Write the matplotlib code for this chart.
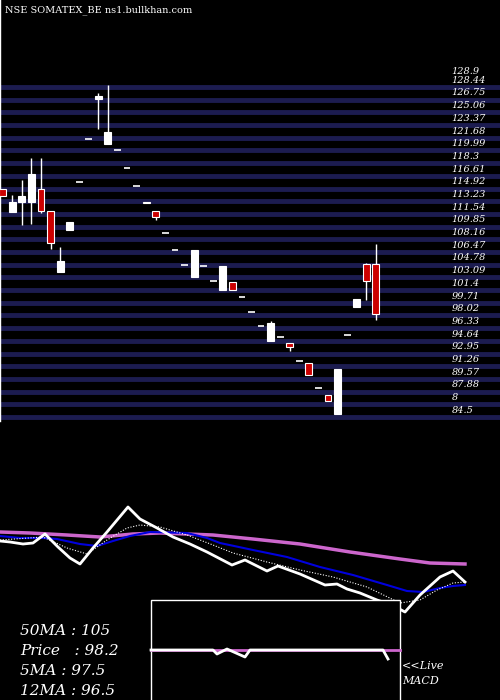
import matplotlib
matplotlib.use("Agg")
import matplotlib.pyplot as plt
import numpy as np

# candles (index order)
opens  = [113.95,111.74,113.07,113.07,114.92,111.88,103.81,110.42,115.84,121.52,126.81,120.82,120.11,117.69,115.31,113.15,111.96,109.01,106.72,104.74,103.11,104.61,102.67,101.39,102.49,100.51,98.53,96.59,94.65,95.09,94.30,91.92,91.66,88.40,87.43,84.87,95.40,99.15,104.87,104.87]
closes = [114.92,113.07,113.86,116.81,111.88,107.69,105.31,109.45,115.84,121.52,127.25,122.49,120.11,117.69,115.31,112.93,111.08,109.01,106.72,104.74,106.77,104.61,102.67,104.65,101.39,100.51,98.53,96.59,97.08,95.09,93.77,91.92,90.07,88.40,86.63,90.91,95.40,100.16,102.63,98.22]
highs  = [114.92,114.03,116.02,118.93,118.93,111.88,107.12,110.42,115.84,121.52,127.69,128.70,120.11,117.69,115.31,113.15,111.96,109.01,106.72,104.74,106.77,104.61,102.67,104.65,102.49,100.51,98.53,96.59,97.34,95.09,94.30,91.92,91.66,88.40,87.43,90.91,95.40,100.16,105.05,107.56]
lows   = [113.95,111.74,110.11,110.25,111.61,106.81,103.81,109.45,115.84,121.52,122.85,120.82,120.11,117.69,115.31,112.93,110.77,109.01,106.72,104.74,103.11,104.61,102.67,101.39,101.39,100.51,98.53,96.59,94.65,95.09,93.24,91.92,90.07,88.40,86.63,84.87,95.40,99.15,100.07,97.43]
red    = [1,0,0,0,1,1,0,0,0,0,0,0,0,0,0,1,1,0,0,0,0,0,0,0,1,0,0,0,0,0,1,0,1,0,1,0,0,0,1,1]

price_labels = ["128.44","126.75","125.06","123.37","121.68","119.99","118.3","116.61","114.92","113.23","111.54","109.85","108.16","106.47","104.78","103.09","101.4","99.71","98.02","96.33","94.64","92.95","91.26","89.57","87.88","8","84.5"]

# lower panel readings (pixel-like panel units)
price_x = [0,10,23,33,45,58,70,80,93,107,128,140,157,173,190,207,232,245,267,278,300,325,337,347,360,377,392,405,420,440,453,465]
price_y = [541,542,544,543,534,547,558,564,548,532,507,519,528,537,544,552,565,560,571,566,574,585,584,589,593,600,605,612,595,577,571,582]
ma5_x = [0,43,67,87,107,127,140,160,187,213,233,267,300,333,367,400,420,437,453,465]
ma5_y = [540,537,548,554,540,528,525,527,535,545,553,562,570,577,587,603,600,590,583,582]
ma12_x = [0,20,43,57,80,97,113,130,150,187,207,220,253,287,320,353,387,407,423,440,453,465]
ma12_y = [536,538,538,539,544,546,541,536,532,533,538,543,550,557,567,575,585,591,592,588,586,585]
ma50_x = [0,30,67,100,133,160,213,253,300,350,400,430,465]
ma50_y = [532,533,535,537,534,533,535,539,544,552,559,563,564]
macd_x = [151,213,217,227,245,250,383,388]
macd_y = [650,650,654,649,657,650,650,659]

legend_lines = ["50MA : 105", "Price   : 98.2", "5MA : 97.5", "12MA : 96.5"]

fig = plt.figure(figsize=(5, 7), dpi=100, facecolor="black")
ax = fig.add_axes([0, 0, 1, 1], facecolor="black")
ax.set_xlim(-0.28, 51.97)
top = 128.44 + 87 / 7.51
bot = 128.44 - 613 / 7.51
ax.set_ylim(bot, top)
ax.axis("off")

for lab in price_labels:
    p = float(lab) if lab != "8" else 86.19
    ax.axhline(p, color="#1c1c50", lw=3.5, zorder=1)
    ax.text(46.9, p + 0.3, lab, color="white", fontsize=7, family="DejaVu Serif",
            style="italic", va="bottom", ha="left", zorder=3)
ax.text(46.9, 128.44 + 1.45, "128.9", color="white", fontsize=7, family="DejaVu Serif",
        style="italic", va="bottom", zorder=3)

for i in range(len(opens)):
    o, c, h, l = opens[i], closes[i], highs[i], lows[i]
    col = "#cc0000" if red[i] else "white"
    ax.vlines(i, l, h, color="white", lw=1, zorder=2)
    lo, hi = min(o, c), max(o, c)
    if hi - lo < 0.15:
        ax.hlines(lo, i - 0.35, i + 0.35, color="white", lw=1.2, zorder=3)
    else:
        ax.bar(i, hi - lo, bottom=lo, width=0.72, color=col, edgecolor="white", lw=0.8, zorder=3)

ax.plot([-0.25, -0.25], [top, 84.0], color="white", lw=1)

ax2 = fig.add_axes([0, 0, 1, 1], facecolor="none")
ax2.set_xlim(0, 500)
ax2.set_ylim(700, 0)
ax2.axis("off")
ax2.plot(ma50_x, ma50_y, color="#cc66cc", lw=2.5)
ax2.plot(ma12_x, ma12_y, color="#0000dd", lw=1.5)
ax2.plot(ma5_x, ma5_y, color="white", lw=0.8, ls=(0, (1, 1.5)))
ax2.plot(price_x, price_y, color="white", lw=2)
ax2.add_patch(plt.Rectangle((151, 600), 249, 105, fill=True, facecolor="black", edgecolor="white", lw=1, zorder=4))
ax2.plot([151, 400], [650, 650], color="#cc66cc", lw=2, zorder=5)
ax2.plot(macd_x, macd_y, color="white", lw=2, zorder=6)

for k, t in enumerate(legend_lines):
    ax2.text(20, 631 + 20 * k, t, color="white", fontsize=11, family="DejaVu Serif",
             style="italic", va="center")
ax2.text(402, 666, "<<Live", color="white", fontsize=8, family="DejaVu Serif", style="italic", va="center")
ax2.text(402, 681, "MACD", color="white", fontsize=8, family="DejaVu Serif", style="italic", va="center")
ax2.text(5, 10, "NSE SOMATEX_BE ns1.bullkhan.com", color="white", fontsize=7, family="DejaVu Serif", va="center")

fig.savefig("out.png", dpi=100, facecolor="black")
